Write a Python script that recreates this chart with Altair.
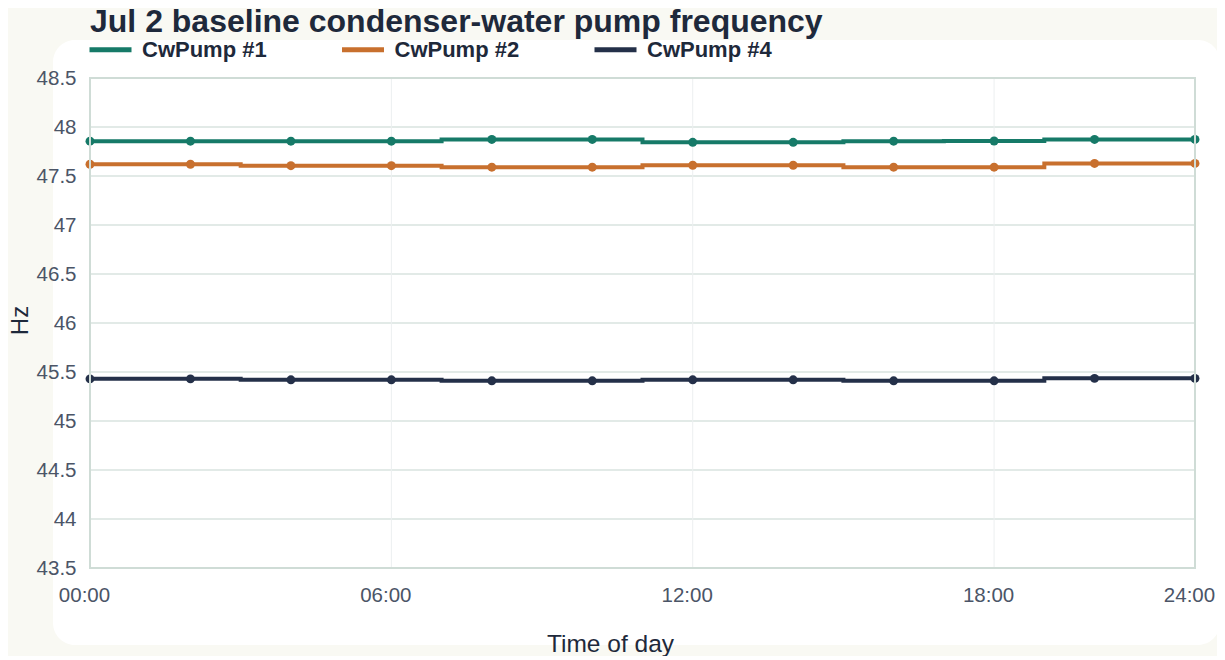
import altair as alt
import pandas as pd

times = ["00:00", "02:00", "04:00", "06:00", "08:00", "10:00",
         "12:00", "14:00", "16:00", "18:00", "21:00", "24:00"]
pump1 = [47.855, 47.855, 47.855, 47.855, 47.873, 47.873,
         47.844, 47.844, 47.855, 47.857, 47.873, 47.873]
pump2 = [47.620, 47.620, 47.605, 47.605, 47.590, 47.590,
         47.610, 47.610, 47.590, 47.590, 47.628, 47.628]
pump4 = [45.430, 45.430, 45.420, 45.420, 45.410, 45.410,
         45.420, 45.420, 45.410, 45.410, 45.435, 45.435]
series = ["CwPump #1", "CwPump #2", "CwPump #4"]
colors = ["#167a68", "#c8702e", "#243049"]
y_ticks = [43.5, 44.0, 44.5, 45.0, 45.5, 46.0, 46.5, 47.0, 47.5, 48.0, 48.5]
x_ticks = ["00:00", "06:00", "12:00", "18:00", "24:00"]

rows = []
for name, vals in zip(series, [pump1, pump2, pump4]):
    for t, v in zip(times, vals):
        rows.append({"time": t, "hz": v, "series": name})
df = pd.DataFrame(rows)

FONT = "Liberation Sans"
DARK = "#1e293b"
LABEL = "#4b5567"

x_scale = alt.Scale(type="point", domain=times, padding=0)
y_scale = alt.Scale(domain=[43.5, 48.5], nice=False, zero=False)

x_axis = alt.Axis(values=x_ticks, labelAngle=0, grid=False, ticks=False, domain=False,
                  labelFont=FONT, labelFontSize=20.5, labelColor=LABEL, labelPadding=17,
                  labelOffset=-6,
                  title="Time of day", titleFont=FONT, titleFontSize=24.5,
                  titleFontWeight="normal", titleColor=DARK,
                  titleX=520, titleY=76, titleBaseline="middle", titleAlign="center",
                  zindex=1)
y_axis = alt.Axis(values=y_ticks, format=".1~f", grid=False, ticks=False, domain=False,
                  labelFont=FONT, labelFontSize=20.5, labelColor=LABEL, labelPadding=14,
                  title="Hz", titleFont=FONT, titleFontSize=24, titleFontWeight="normal",
                  titleColor=DARK, titleAngle=270, titleX=-70, titleY=242,
                  titleAlign="center", titleBaseline="middle", zindex=1)

legend = alt.Legend(orient="none", legendX=-3, legendY=-52, direction="horizontal",
                    title=None, symbolType="stroke", symbolStrokeWidth=5,
                    symbolSize=1764, labelFont=FONT, labelFontSize=22,
                    labelFontWeight="bold", labelColor=DARK, columnPadding=64.5,
                    labelOffset=8, padding=0)
color = alt.Color("series:N", scale=alt.Scale(domain=series, range=colors), legend=legend)

panel = alt.Chart(pd.DataFrame({"k": [0]})).mark_rect(
    fill="#ffffff", cornerRadius=22
).encode(x=alt.value(-37), x2=alt.value(1130), y=alt.value(-38), y2=alt.value(567))

hgrid = alt.Chart(pd.DataFrame({"v": y_ticks})).mark_rule(
    color="#d9e3df", strokeWidth=1.5
).encode(y=alt.Y("v:Q", scale=y_scale, axis=y_axis))

vgrid = alt.Chart(pd.DataFrame({"t": x_ticks})).mark_rule(
    color="#eceff0", strokeWidth=1
).encode(x=alt.X("t:N", scale=x_scale, axis=x_axis, sort=times))

base = alt.Chart(df).encode(
    x=alt.X("time:N", scale=x_scale, axis=x_axis, sort=times),
    y=alt.Y("hz:Q", scale=y_scale, axis=y_axis),
    color=color,
)
lines = base.mark_line(interpolate="step", strokeWidth=4)
points = base.mark_circle(size=80, opacity=1)

border = alt.Chart(pd.DataFrame({"k": [0]})).mark_rect(
    fillOpacity=0, stroke="#cfdcd6", strokeWidth=2
).encode(x=alt.value(0), x2=alt.value("width"), y=alt.value(0), y2=alt.value("height"))

chart = alt.layer(panel, hgrid, vgrid, lines, points, border).properties(
    width=1105,
    height=490,
    autosize=alt.AutoSizeParams(type="none"),
    padding={"left": 82, "top": 70, "right": 22, "bottom": 88},
    background="#f9f9f3",
    title=alt.TitleParams(
        text="Jul 2 baseline condenser-water pump frequency",
        anchor="start", frame="group", font=FONT, fontSize=32,
        fontWeight="bold", color=DARK, offset=-12.5,
    ),
).configure_view(stroke=None)

chart.save("out.html", embed_options={"renderer": "svg", "actions": False})
